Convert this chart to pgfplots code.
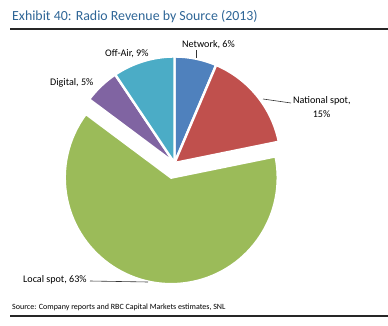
\documentclass[border=0pt]{standalone}
\usepackage{pgfplots}
\usepackage{pgfplotstable}
\pgfplotsset{compat=1.18}
\usepackage{fontspec}
\setmainfont{Carlito}
\definecolor{slice0}{HTML}{4F81BD}
\definecolor{slice1}{HTML}{C0504D}
\definecolor{slice2}{HTML}{9BBB59}
\definecolor{slice3}{HTML}{8064A2}
\definecolor{slice4}{HTML}{4BACC6}
\definecolor{titleblue}{HTML}{2E6596}

\pgfplotstableread{
label value explode
Network 6.4 0
National 15.4 0
Local 63.4 15
Digital 5.4 0
OffAir 9.4 0
}\pietable

\begin{document}
\begin{tikzpicture}[x=1pt,y=1pt]
\useasboundingbox (0,0) rectangle (388,325);
\begin{axis}[anchor=origin, at={(174.5pt,162pt)}, x=1pt, y=1pt,
  xmin=-110, xmax=110, ymin=-130, ymax=110, hide axis, clip=false]
\pgfplotsextra{%
  \def\cum{0}%
  \pgfplotsforeachungrouped \i in {0,...,4}{%
    \pgfplotstablegetelem{\i}{value}\of\pietable \let\val\pgfplotsretval
    \pgfplotstablegetelem{\i}{explode}\of\pietable \let\ex\pgfplotsretval
    \pgfmathsetmacro\aone{90-3.6*\cum}%
    \pgfmathsetmacro\atwo{90-3.6*(\cum+\val)}%
    \pgfmathsetmacro\amid{(\aone+\atwo)/2}%
    \filldraw[fill=slice\i, draw=white, line width=2.4pt]
      ([shift={(\amid:\ex pt)}]axis cs:0,0) -- ++(\aone:106.5pt)
      arc[start angle=\aone, end angle=\atwo, radius=106.5pt] -- cycle;
    \pgfmathsetmacro\cum{\cum+\val}%
  }%
}
\end{axis}
% title and rules
\node[anchor=base west, inner sep=0pt, text=titleblue, font=\fontsize{13.9}{16}\selectfont] at (12,305) {Exhibit 40: Radio Revenue by Source (2013)};
\draw[line width=1.2pt, black!85] (10,296) -- (388,296);
\draw[line width=1.2pt, black!85] (10,9) -- (388,9);
\node[anchor=base west, inner sep=0pt, font=\fontsize{8}{9}\selectfont] at (12,16) {Source: Company reports and RBC Capital Markets estimates, SNL};
% labels
\begin{scope}[font=\fontsize{10.1}{11}\selectfont]
\node[anchor=base west, inner sep=0pt] at (182,278) {Network, 6\%};
\draw[black!80, line width=0.6pt] (196,275) -- (196,267);
\node[anchor=base west, inner sep=0pt] at (105,269) {Off-Air, 9\%};
\node[anchor=base west, inner sep=0pt] at (50,240) {Digital, 5\%};
\node[anchor=base west, inner sep=0pt] at (293,222) {National spot,};
\node[anchor=base, inner sep=0pt] at (321.5,208) {15\%};
\draw[black!80, line width=0.6pt] (263,226) -- (291,222);
\node[anchor=base west, inner sep=0pt] at (23,43) {Local spot, 63\%};
\draw[black!80, line width=0.6pt] (90,44) -- (148,43);
\end{scope}
\end{tikzpicture}
\end{document}
